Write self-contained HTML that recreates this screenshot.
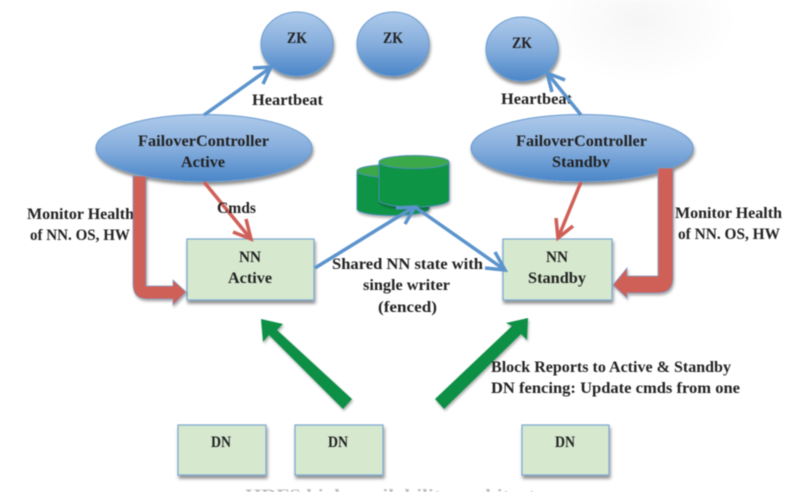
<!DOCTYPE html>
<html><head><meta charset="utf-8"><style>
html,body{margin:0;padding:0;background:#fff;width:802px;height:492px;overflow:hidden}
svg{display:block;filter:blur(.65px)}
text{font-family:"Liberation Serif",serif;font-weight:bold;font-size:15.500px;fill:#222;text-anchor:start}
</style></head><body>
<svg width="802" height="492" viewBox="0 0 802 492" xmlns="http://www.w3.org/2000/svg">
<defs>
<linearGradient id="b" x1="0" y1="0" x2="0" y2="1"><stop offset="0" stop-color="#aecaea"/><stop offset=".5" stop-color="#86aedd"/><stop offset="1" stop-color="#4a86c8"/></linearGradient>
<radialGradient id="sm" cx=".5" cy=".5" r=".5"><stop offset="0" stop-color="#f6f6f6"/><stop offset=".55" stop-color="#fbfbfb"/><stop offset="1" stop-color="#fff"/></radialGradient>
<filter id="s" x="-20%" y="-20%" width="140%" height="150%"><feDropShadow dx="1" dy="3" stdDeviation="1.6" flood-color="#000" flood-opacity=".45"/></filter>
<filter id="s2" x="-20%" y="-20%" width="140%" height="150%"><feDropShadow dx="1" dy="2" stdDeviation="1.2" flood-color="#000" flood-opacity=".32"/></filter>
<clipPath id="stb"><rect x="500" y="150" width="160" height="17.500"/></clipPath>
<clipPath id="bot"><rect x="0" y="488" width="802" height="4"/></clipPath>
</defs>

<ellipse cx="640" cy="20" rx="95" ry="62" fill="url(#sm)"/>

<!-- labels under arrows -->
<text x="27" y="219" textLength="107" lengthAdjust="spacingAndGlyphs">Monitor Health</text>
<text x="30" y="240" textLength="100" lengthAdjust="spacingAndGlyphs">of NN. OS, HW</text>
<text x="252" y="105" textLength="71" lengthAdjust="spacingAndGlyphs">Heartbeat</text>
<text x="501" y="104" textLength="71" lengthAdjust="spacingAndGlyphs">Heartbeat</text>

<!-- cylinders -->
<g filter="url(#s2)" stroke="#4f8fb8" stroke-width="1">
<path d="M357 171v38a36 6.500 0 0 0 72 0v-38z" fill="#0a9444"/>
<ellipse cx="393" cy="171" rx="36" ry="6.500" fill="#3aa94a"/>
</g>
<g filter="url(#s2)" stroke="#4f8fb8" stroke-width="1">
<path d="M379 162v38a35 7 0 0 0 70 0v-38z" fill="#0a9444"/>
<ellipse cx="414" cy="162" rx="35" ry="6.500" fill="#3aa94a"/>
</g>

<!-- ZK circles -->
<g filter="url(#s)" stroke="#6b9bd0" stroke-width="1" fill="url(#b)">
<ellipse cx="297" cy="44" rx="36" ry="32"/>
<ellipse cx="393" cy="44" rx="36" ry="32"/>
<ellipse cx="522" cy="49" rx="36" ry="32"/>
<ellipse cx="204" cy="148" rx="108" ry="33.500"/>
<ellipse cx="582" cy="148" rx="111" ry="33.500"/>
</g>

<!-- NN / DN boxes -->
<g filter="url(#s)" fill="#d6e9cf" stroke="#79a7cf" stroke-width="1.200">
<rect x="187" y="239" width="127" height="61"/>
<rect x="503" y="239" width="109" height="61"/>
<rect x="178" y="425" width="88" height="50"/>
<rect x="295" y="425" width="88" height="50"/>
<rect x="522" y="425" width="87" height="50"/>
</g>

<!-- blue connectors -->
<g fill="none" stroke="#5b93cd" stroke-width="3.500">
<path d="M204 115L270 68"/>
<path d="M253 68L271 67L263 84"/>
<path d="M581 115L548 74"/>
<path d="M565 80L547 73L552 92"/>
<path d="M315 268L414 207"/>
<path d="M396 208L415 207L405 224"/>
<path d="M505 270L415 207"/>
<path d="M485 268L505 270L495 252"/>
</g>

<!-- red thin connectors -->
<g fill="none" stroke="#cf6058" stroke-width="3.500">
<path d="M204 182L250 238"/>
<path d="M233 232L251 239L246 219"/>
<path d="M581 182L558 238"/>
<path d="M573 226L558 238L556 218"/>
</g>

<!-- red thick arrows -->
<g filter="url(#s2)" fill="#cf6058" stroke="#7f9dc6" stroke-width=".7">
<path d="M133 176H146V286H173V280L186 292L173 305V299H147Q133 299 133 284Z"/>
<path d="M658 168H673V278Q673 293 658 293H627V298L613 285L627 268V276H658Z"/>
</g>

<!-- green arrows -->
<g filter="url(#s2)" fill="#0a8f45">
<path d="M261 319L283 324L277 330L352 399L343 409L269 335L263 342Z"/>
<path d="M528 318L527 340L521 334L444 409L435 399L512 326L506 323Z"/>
</g>

<!-- labels -->
<text x="287" y="43" textLength="20" lengthAdjust="spacingAndGlyphs">ZK</text>
<text x="383" y="43" textLength="20" lengthAdjust="spacingAndGlyphs">ZK</text>
<text x="512" y="48" textLength="20" lengthAdjust="spacingAndGlyphs">ZK</text>
<text x="138" y="146" textLength="131" lengthAdjust="spacingAndGlyphs">FailoverController</text>
<text x="181" y="167" textLength="44" lengthAdjust="spacingAndGlyphs">Active</text>
<text x="516" y="146" textLength="131" lengthAdjust="spacingAndGlyphs">FailoverController</text>
<g clip-path="url(#stb)"><text x="552" y="167" textLength="58" lengthAdjust="spacingAndGlyphs">Standby</text></g>
<text x="217" y="213" textLength="39" lengthAdjust="spacingAndGlyphs">Cmds</text>
<text x="239" y="262" textLength="22" lengthAdjust="spacingAndGlyphs">NN</text>
<text x="228" y="283" textLength="44" lengthAdjust="spacingAndGlyphs">Active</text>
<text x="546" y="262" textLength="22" lengthAdjust="spacingAndGlyphs">NN</text>
<text x="528" y="283" textLength="58" lengthAdjust="spacingAndGlyphs">Standby</text>
<text x="332" y="269" textLength="151" lengthAdjust="spacingAndGlyphs">Shared NN state with</text>
<text x="363" y="290" textLength="87" lengthAdjust="spacingAndGlyphs">single writer</text>
<text x="378" y="312" textLength="59" lengthAdjust="spacingAndGlyphs">(fenced)</text>
<text x="675" y="218" textLength="107" lengthAdjust="spacingAndGlyphs">Monitor Health</text>
<text x="678" y="239" textLength="102" lengthAdjust="spacingAndGlyphs">of NN. OS, HW</text>
<text x="491" y="372" textLength="240" lengthAdjust="spacingAndGlyphs">Block Reports to Active &amp; Standby</text>
<text x="491" y="393" textLength="249" lengthAdjust="spacingAndGlyphs">DN fencing: Update cmds from one</text>
<text x="211" y="447" textLength="20" lengthAdjust="spacingAndGlyphs">DN</text>
<text x="328" y="447" textLength="20" lengthAdjust="spacingAndGlyphs">DN</text>
<text x="555" y="447" textLength="20" lengthAdjust="spacingAndGlyphs">DN</text>
<g clip-path="url(#bot)"><text x="245" y="500" textLength="320" lengthAdjust="spacingAndGlyphs" opacity=".3">HDFS high availability architecture</text></g>
</svg>
</body></html>
